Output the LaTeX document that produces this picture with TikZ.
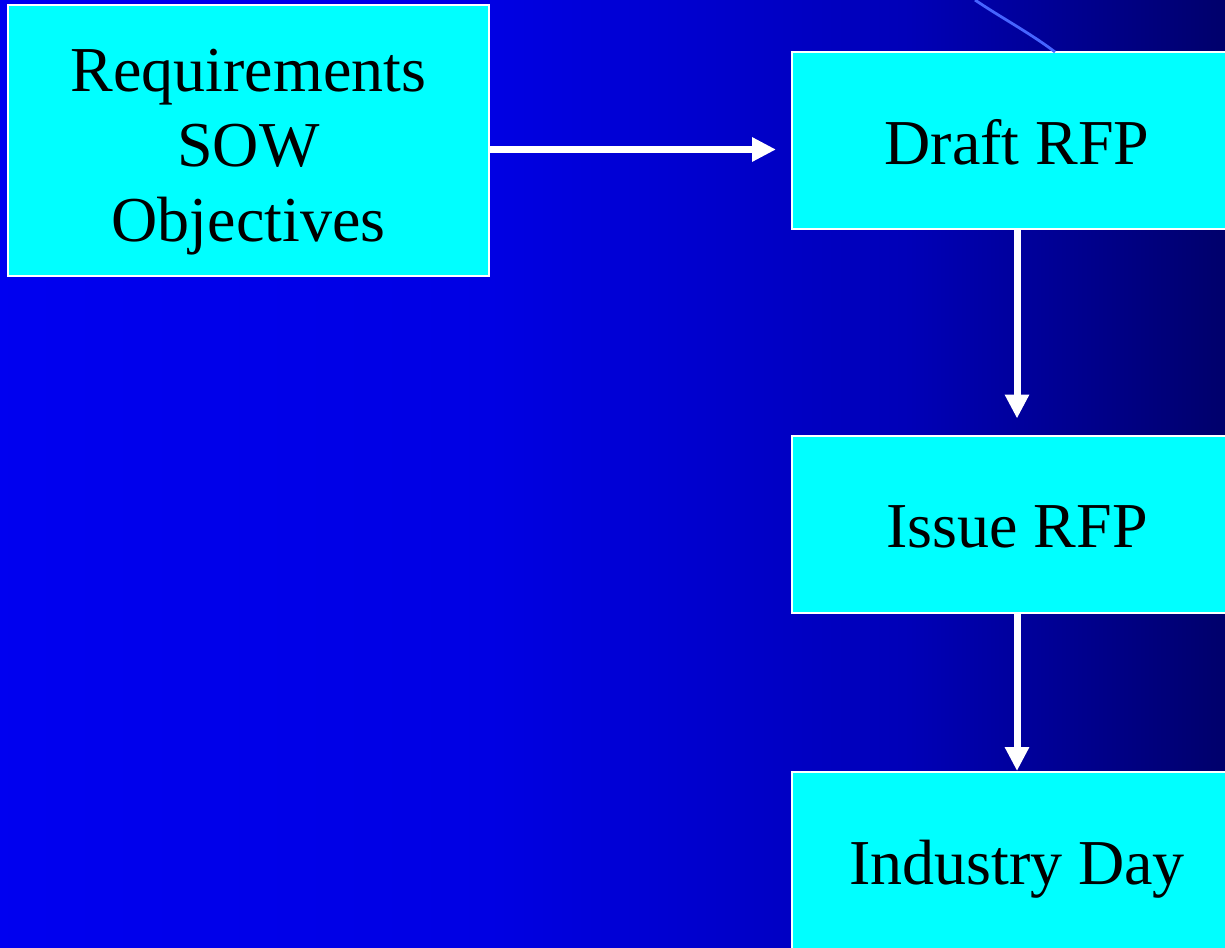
\documentclass[tikz,border=0pt]{standalone}
\usepackage{fontspec}
\setmainfont{Liberation Serif}
\usetikzlibrary{arrows.meta,positioning}

\definecolor{boxfill}{RGB}{0,255,255}
\definecolor{arcblue}{RGB}{70,100,255}
% only 25bp..75bp of the shading covers the path
\pgfdeclarehorizontalshading{slidebg}{100bp}{rgb(0bp)=(0,0,0.94); rgb(25bp)=(0,0,0.94); rgb(45bp)=(0,0,0.89); rgb(62bp)=(0,0,0.72); rgb(75bp)=(0,0,0.42); rgb(100bp)=(0,0,0.42)}

\begin{document}
\begin{tikzpicture}[
  x=0.5pt, y=-0.5pt,
  stagebox/.style={rectangle, draw=white, line width=1pt, fill=boxfill, inner sep=0pt,
    text=black, align=center, font=\fontsize{32}{37.5}\selectfont, text depth=0pt},
  stepbox/.style={stagebox, minimum width=225pt, minimum height=88.5pt, text height=23.5pt},
  flow/.style={-{Triangle[length=12pt,width=11.5pt]}, line width=3.5pt, white}
]
  \useasboundingbox (0,0) rectangle (1225,947);
  \clip (0,0) rectangle (1225,947);
  % slide background
  \shade[shading=slidebg] (0,0) rectangle (1225,947);

  \node[stagebox, minimum width=240.5pt, minimum height=135.5pt, text height=100.5pt] (req) at (248.5,140.5)
    {Requirements\\SOW\\Objectives};
  \node[stepbox] (draft) at (1017,140.5) {Draft RFP};
  \node[stepbox] (issue) at (1017,524) {Issue RFP};
  \node[stepbox] (industry) at (1017,860.5) {Industry Day};

  % thin arc coming in from above
  \coordinate (arctop) at (975,0);
  \coordinate (arcend) at (1055,52);
  \draw[arcblue, line width=1.4pt] (arctop) .. controls (1000,17) and (1030,33) .. (arcend);

  % process arrows
  \draw[flow, shorten >=7.5pt] ([yshift=-4.5pt]req.east) -- ([yshift=-4.5pt]draft.west);
  \draw[flow, shorten >=8pt] (draft) -- (issue);
  \draw[flow] (issue) -- (industry);
\end{tikzpicture}
\end{document}
